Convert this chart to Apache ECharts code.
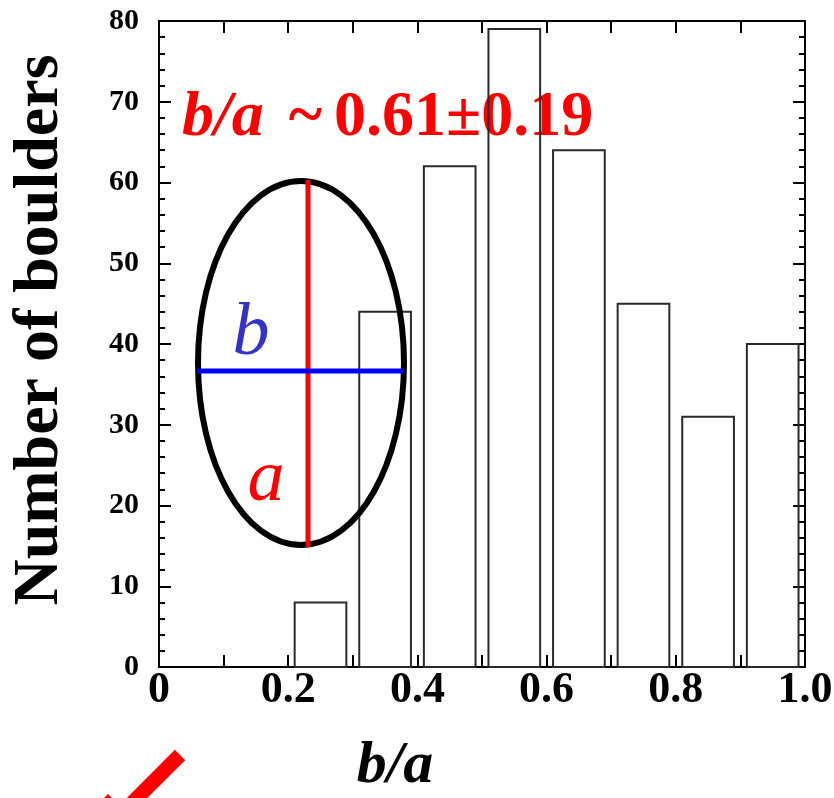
<!DOCTYPE html>
<html><head><meta charset="utf-8">
<script src="https://cdn.jsdelivr.net/npm/echarts@6/dist/echarts.min.js"></script>
<style>html,body{margin:0;padding:0;background:#fff}#c{width:834px;height:798px}</style>
</head><body><div id="c"></div>
<script>
// ---- data ----
const binCenters = [0.05, 0.15, 0.25, 0.35, 0.45, 0.55, 0.65, 0.75, 0.85, 0.95];
const counts     = [0,    0,    8,    44,   62,   79,   64,   45,   31,   40];
const binWidth = 0.08;
const xMin = 0, xMax = 1.0, xStep = 0.2;
const yMin = 0, yMax = 80, yStep = 10;
const xTitle = 'b/a';
const yTitle = 'Number of boulders';
const statValue = '0.61\u00b10.19';

const FONT = '"Liberation Serif", "Times New Roman", serif';
const chart = echarts.init(document.getElementById('c'), null, {renderer: 'canvas'});

const tickStyle = {color: '#000', width: 2};
function xAxisCfg(pos, labels) {
  return {
    type: 'value', min: xMin, max: xMax, interval: xStep, position: pos,
    axisLine: {show: true, onZero: false, lineStyle: {color: '#000', width: 2}},
    axisTick: {show: true, inside: true, length: 12, lineStyle: tickStyle},
    minorTick: {show: true, splitNumber: 2, length: 12, lineStyle: tickStyle},
    splitLine: {show: false}, minorSplitLine: {show: false},
    axisLabel: labels ? {
      show: true, margin: 2, color: '#000', fontFamily: FONT, fontWeight: 'bold', fontSize: 44,
      formatter: v => (v === 0 ? '0' : v.toFixed(1))
    } : {show: false}
  };
}
function yAxisCfg(pos, labels) {
  return {
    type: 'value', min: yMin, max: yMax, interval: yStep, position: pos,
    axisLine: {show: true, onZero: false, lineStyle: {color: '#000', width: 2}},
    axisTick: {show: true, inside: true, length: 12, lineStyle: tickStyle},
    minorTick: {show: true, splitNumber: 5, length: 6, lineStyle: tickStyle},
    splitLine: {show: false}, minorSplitLine: {show: false},
    axisLabel: labels ? {
      show: true, margin: 20, color: '#000', fontFamily: FONT, fontWeight: 'bold', fontSize: 30
    } : {show: false}
  };
}

const option = {
  animation: false,
  backgroundColor: '#fff',
  grid: {left: 159, right: 29, top: 21, bottom: 131, outerBoundsMode: 'none', containLabel: false},
  xAxis: [xAxisCfg('bottom', true), xAxisCfg('top', false)],
  yAxis: [yAxisCfg('left', true), yAxisCfg('right', false)],
  series: [{
    type: 'custom',
    xAxisIndex: 0, yAxisIndex: 0,
    encode: {x: 0, y: 1},
    data: binCenters.map((c, i) => [c, counts[i]]),
    z: 5,
    renderItem: function (params, api) {
      const x = api.value(0), y = api.value(1);
      if (!y) return null;
      const p0 = api.coord([x - binWidth / 2, y]);
      const p1 = api.coord([x + binWidth / 2, 0]);
      return {
        type: 'rect',
        shape: {x: p0[0], y: p0[1], width: p1[0] - p0[0], height: p1[1] - p0[1]},
        style: {fill: 'rgba(255,255,255,0)', stroke: '#2a2a2a', lineWidth: 2}
      };
    }
  }],
  graphic: [
    // annotation text (behind bars)
    {type: 'text', left: 182, top: 86, z: 1,
     style: {rich: {i: {fontStyle: 'italic', fontWeight: 'bold', fontSize: 64, fontFamily: FONT, fill: '#ff0000'},
                    t: {fontWeight: 'bold', fontSize: 64, fontFamily: FONT, fill: '#ff0000', padding: [0, 12, 0, 25]},
                    n: {fontWeight: 'bold', fontSize: 64, fontFamily: FONT, fill: '#ff0000'}},
             text: '{i|b/a}{t|~}{n|' + statValue + '}'}},
    // y title
    {type: 'text', x: 40, y: 330, rotation: Math.PI / 2, z: 10,
     style: {text: yTitle, fontFamily: FONT, fontWeight: 'bold', fontSize: 64, fill: '#000',
             textAlign: 'center', textVerticalAlign: 'middle'}},
    // x title
    {type: 'text', x: 395, y: 766, z: 10,
     style: {text: xTitle, fontFamily: FONT, fontWeight: 'bold', fontStyle: 'italic', fontSize: 60, fill: '#000',
             textAlign: 'center', textVerticalAlign: 'middle'}},
    // ellipse diagram
    {type: 'ellipse', z: 20, shape: {cx: 301, cy: 363, rx: 103, ry: 182},
     style: {fill: 'none', stroke: '#000', lineWidth: 6}},
    {type: 'line', z: 21, shape: {x1: 308, y1: 180, x2: 308, y2: 547},
     style: {stroke: '#ff0000', lineWidth: 5}},
    {type: 'line', z: 21, shape: {x1: 197, y1: 371, x2: 404, y2: 371},
     style: {stroke: '#0000ff', lineWidth: 5}},
    {type: 'text', x: 251, y: 335, z: 22,
     style: {text: 'b', fontFamily: FONT, fontStyle: 'italic', fontSize: 74, fill: '#3333cc',
             textAlign: 'center', textVerticalAlign: 'middle'}},
    {type: 'text', x: 266, y: 481, z: 22,
     style: {text: 'a', fontFamily: FONT, fontStyle: 'italic', fontSize: 74, fill: '#ff0000',
             textAlign: 'center', textVerticalAlign: 'middle'}},
    // red check mark (partially cut off)
    {type: 'line', z: 22, shape: {x1: 180, y1: 755, x2: 118, y2: 817},
     style: {stroke: '#ff0000', lineWidth: 14.5, lineCap: 'butt'}},
    {type: 'line', z: 22, shape: {x1: 103, y1: 799, x2: 122, y2: 818},
     style: {stroke: '#ff0000', lineWidth: 14, lineCap: 'butt'}}
  ]
};
chart.setOption(option);
</script>
</body></html>
